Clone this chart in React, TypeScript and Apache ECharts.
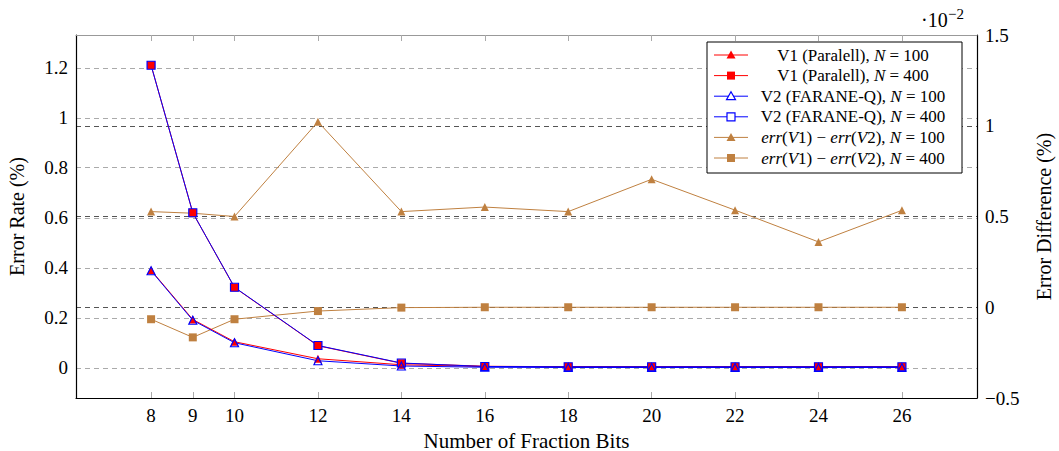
import React, { useEffect, useRef } from "react";
import * as echarts from "echarts";

// ---- data ----
const bits = [8, 9, 10, 12, 14, 16, 18, 20, 22, 24, 26];
const leftTicks = [0, 0.2, 0.4, 0.6, 0.8, 1, 1.2];

const v1N100 = [0.39, 0.193, 0.104, 0.036, 0.012, 0.005, 0.005, 0.005, 0.005, 0.005, 0.005];
const v1N400 = [1.21, 0.62, 0.321, 0.088, 0.018, 0.006, 0.004, 0.004, 0.004, 0.004, 0.004];
const v2N100 = [0.388, 0.19, 0.1, 0.028, 0.007, 0.002, 0.001, 0.001, 0.001, 0.001, 0.001];
const v2N400 = [1.21, 0.62, 0.322, 0.089, 0.019, 0.005, 0.004, 0.004, 0.004, 0.004, 0.004];
// error difference, in units of 10^-2 %
const diffN100 = [0.527, 0.518, 0.5, 1.022, 0.527, 0.552, 0.527, 0.705, 0.535, 0.36, 0.534];
const diffN400 = [-0.066, -0.166, -0.066, -0.021, -0.002, 0, 0, 0, 0, 0, 0];

const FONT = "Liberation Serif";
const RED = "#ff0000";
const BLUE = "#0000ff";
const BROWN = "#bf8040";

const GL = 76, GR = 977, GT = 35, GB = 398;

export default function App() {
  const ref = useRef<HTMLDivElement>(null);
  useEffect(() => {
    const chart = echarts.init(ref.current!, null, { renderer: "svg" });
    const zip = (ys: number[]) => bits.map((x, i) => [x, ys[i]]);

    const mkSeries = (name: string, data: number[], color: string, symbol: string, open: boolean, yIdx: number) => ({
      name,
      type: "line",
      xAxisIndex: 0,
      yAxisIndex: yIdx,
      data: zip(data),
      symbol,
      symbolSize: 8,
      showAllSymbol: true,
      lineStyle: { color, width: 1 },
      itemStyle: open
        ? { color: "rgba(0,0,0,0)", borderColor: color, borderWidth: 1.2 }
        : { color, borderWidth: 0 },
      emphasis: { disabled: true },
    });

    const legendItems = [
      { color: RED, symbol: "tri", open: false, text: "{r|V1 (Paralell), }{i|N}{r| = 100}" },
      { color: RED, symbol: "sq", open: false, text: "{r|V1 (Paralell), }{i|N}{r| = 400}" },
      { color: BLUE, symbol: "tri", open: true, text: "{r|V2 (FARANE-Q), }{i|N}{r| = 100}" },
      { color: BLUE, symbol: "sq", open: true, text: "{r|V2 (FARANE-Q), }{i|N}{r| = 400}" },
      { color: BROWN, symbol: "tri", open: false, text: "{i|err}{r|(}{i|V}{r|1) − }{i|err}{r|(}{i|V}{r|2), }{i|N}{r| = 100}" },
      { color: BROWN, symbol: "sq", open: false, text: "{i|err}{r|(}{i|V}{r|1) − }{i|err}{r|(}{i|V}{r|2), }{i|N}{r| = 400}" },
    ];
    const lx = 707, ly = 42, lw = 255, lh = 131;
    const rowH = 20.6;
    const legendGraphics: any[] = [
      { type: "rect", shape: { x: lx, y: ly, width: lw, height: lh }, style: { fill: "#fff", stroke: "#000", lineWidth: 1 }, z: 100 },
    ];
    legendItems.forEach((it, i) => {
      const cy = ly + 13 + i * rowH;
      legendGraphics.push({ type: "line", shape: { x1: 714, y1: cy, x2: 748, y2: cy }, style: { stroke: it.color, lineWidth: 1 }, z: 101 });
      const fill = it.open ? "#fff" : it.color;
      if (it.symbol === "sq") {
        legendGraphics.push({ type: "rect", shape: { x: 727, y: cy - 4, width: 8, height: 8 }, style: { fill, stroke: it.color, lineWidth: it.open ? 1.2 : 0 }, z: 102 });
      } else {
        legendGraphics.push({ type: "polygon", shape: { points: [[731, cy - 4.5], [735.5, cy + 3.5], [726.5, cy + 3.5]] }, style: { fill, stroke: it.color, lineWidth: it.open ? 1.2 : 0 }, z: 102 });
      }
      legendGraphics.push({
        type: "text",
        x: 853,
        y: cy,
        z: 102,
        style: {
          text: it.text,
          align: "center",
          verticalAlign: "middle",
          fill: "#000",
          rich: {
            r: { fontFamily: FONT, fontSize: 17, fill: "#000" },
            i: { fontFamily: FONT, fontSize: 17, fontStyle: "italic", fill: "#000" },
          },
        },
      });
    });

    const option: any = {
      animation: false,
      backgroundColor: "#fff",
      textStyle: { fontFamily: FONT },
      grid: { left: GL, right: 1059 - GR, top: GT, bottom: 451 - GB, containLabel: false, outerBoundsMode: "none" },
      xAxis: [
        {
          type: "value",
          min: 6.2,
          max: 27.8,
          position: "bottom",
          name: "Number of Fraction Bits",
          nameLocation: "middle",
          nameGap: 32,
          nameTextStyle: { fontFamily: FONT, fontSize: 21, color: "#000" },
          axisLine: { show: true, onZero: false, lineStyle: { color: "#000", width: 1.2 } },
          axisTick: { show: true, inside: true, length: 6, customValues: bits, lineStyle: { color: "#aaa", width: 1 } },
          axisLabel: { show: true, customValues: bits, margin: 8, fontFamily: FONT, fontSize: 19, color: "#000", formatter: (v: number) => String(v) },
          splitLine: { show: false },
        },
        {
          type: "value",
          min: 6.2,
          max: 27.8,
          position: "top",
          axisLine: { show: true, onZero: false, lineStyle: { color: "#999", width: 1 } },
          axisTick: { show: true, inside: true, length: 6, customValues: bits, lineStyle: { color: "#aaa", width: 1 } },
          axisLabel: { show: false },
          splitLine: { show: false },
        },
      ],
      yAxis: [
        {
          type: "value",
          min: -0.121,
          max: 1.331,
          position: "left",
          name: "Error Rate (%)",
          nameLocation: "middle",
          nameRotate: 90,
          nameGap: 49,
          nameTextStyle: { fontFamily: FONT, fontSize: 20, color: "#000" },
          axisLine: { show: true, onZero: false, lineStyle: { color: "#000", width: 1.2 } },
          axisTick: { show: false, customValues: leftTicks },
          axisLabel: { show: true, customValues: leftTicks, margin: 8, fontFamily: FONT, fontSize: 19, color: "#000", formatter: (v: number) => String(v) },
          splitLine: { show: true, lineStyle: { color: "#aaa", width: 1.2, type: [5, 4] } },
        },
        {
          type: "value",
          min: -0.5,
          max: 1.5,
          interval: 0.5,
          position: "right",
          name: "Error Difference (%)",
          nameLocation: "middle",
          nameRotate: 90,
          nameGap: 57,
          nameTextStyle: { fontFamily: FONT, fontSize: 20, color: "#000" },
          axisLine: { show: true, onZero: false, lineStyle: { color: "#000", width: 1.2 } },
          axisTick: { show: false },
          axisLabel: {
            show: true,
            margin: 8,
            fontFamily: FONT,
            fontSize: 19,
            color: "#000",
            formatter: (v: number) => (v < 0 ? "−" + Math.abs(v) : String(v)),
          },
          splitLine: { show: true, lineStyle: { color: "#555", width: 1.2, type: [5, 4] } },
        },
      ],
      graphic: [
        { type: "text", x: 921, y: 30, style: { text: "·10", fontFamily: FONT, fontSize: 20, fill: "#000", verticalAlign: "bottom" } },
        { type: "text", x: 948, y: 21, style: { text: "−2", fontFamily: FONT, fontSize: 15, fill: "#000", verticalAlign: "bottom" } },
        ...legendGraphics,
      ],
      series: [
        mkSeries("err(V1) − err(V2), N = 100", diffN100, BROWN, "triangle", false, 1),
        mkSeries("err(V1) − err(V2), N = 400", diffN400, BROWN, "rect", false, 1),
        mkSeries("V1 (Paralell), N = 100", v1N100, RED, "triangle", false, 0),
        mkSeries("V1 (Paralell), N = 400", v1N400, RED, "rect", false, 0),
        mkSeries("V2 (FARANE-Q), N = 100", v2N100, BLUE, "triangle", true, 0),
        mkSeries("V2 (FARANE-Q), N = 400", v2N400, BLUE, "rect", true, 0),
      ],
    };
    chart.setOption(option);
    return () => chart.dispose();
  }, []);
  return <div ref={ref} style={{ position: "absolute", left: 0, top: 0, width: 1059, height: 451 }} />;
}
